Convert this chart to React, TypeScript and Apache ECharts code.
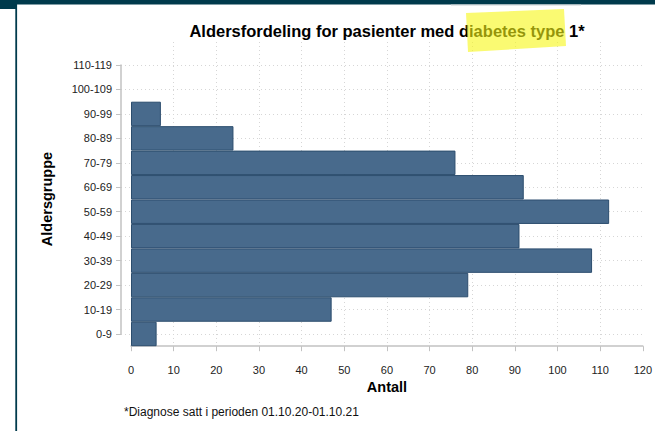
import React, { useEffect, useRef } from "react";
import * as echarts from "echarts";

// ---- data ----
const ageGroups = ["0-9", "10-19", "20-29", "30-39", "40-49", "50-59", "60-69", "70-79", "80-89", "90-99", "100-109", "110-119"];
const patientCounts = [6, 47, 79, 108, 91, 112, 92, 76, 24, 7, 0, 0];
const xMin = 0;
const xMax = 120;
const xInterval = 10;
const titleText = "Aldersfordeling for pasienter med diabetes type 1*";
const yAxisTitle = "Aldersgruppe";
const xAxisTitle = "Antall";
const footnoteText = "*Diagnose satt i perioden 01.10.20-01.10.21";

const FONT = '"Liberation Sans", Arial, sans-serif';
const AXIS_GRAY = "#c2c2c2";
const GRID_GRAY = "#d6d6d6";

export default function App() {
  const ref = useRef<HTMLDivElement>(null);

  useEffect(() => {
    if (!ref.current) return;
    const chart = echarts.init(ref.current, undefined, { renderer: "svg" });
    const plotRight = 11.7;
    const option: any = {
      animation: false,
      backgroundColor: "#ffffff",
      textStyle: { fontFamily: FONT },
      grid: [
        { left: 131, right: plotRight, top: 42, bottom: 84.8 },
        { left: 131, right: plotRight, top: 52.8, bottom: 84.8 },
        { left: 121, right: plotRight, top: 65, bottom: 97 },
      ],
      xAxis: [
        {
          gridIndex: 0,
          type: "value",
          min: xMin,
          max: xMax,
          interval: xInterval,
          offset: 8,
          axisLine: { show: true, lineStyle: { color: AXIS_GRAY, width: 1.5 } },
          axisTick: { show: true, length: 5, lineStyle: { color: AXIS_GRAY } },
          axisLabel: { fontSize: 11, color: "#222", margin: 10, fontFamily: FONT },
          splitLine: {
            show: true,
            showMinLine: false,
            showMaxLine: false,
            lineStyle: { color: GRID_GRAY, type: [1, 3], width: 1 },
          },
        },
        { gridIndex: 1, type: "value", min: xMin, max: xMax, show: false },
        { gridIndex: 2, type: "value", min: 0, max: 1, show: false },
      ],
      yAxis: [
        { gridIndex: 0, type: "value", min: 0, max: 1, show: false },
        { gridIndex: 1, type: "category", data: ageGroups, show: false },
        {
          gridIndex: 2,
          type: "value",
          min: 0,
          max: ageGroups.length - 1,
          interval: 1,
          axisLine: { show: true, lineStyle: { color: AXIS_GRAY, width: 1.5 } },
          axisTick: { show: true, length: 5, lineStyle: { color: AXIS_GRAY } },
          axisLabel: {
            fontSize: 11,
            color: "#222",
            margin: 9,
            fontFamily: FONT,
            showMinLabel: true,
            showMaxLabel: true,
            formatter: (v: number) => ageGroups[Math.round(v)] ?? "",
          },
          splitLine: {
            show: true,
            lineStyle: { color: GRID_GRAY, type: [1, 3], width: 1 },
          },
        },
      ],
      series: [
        {
          type: "bar",
          xAxisIndex: 1,
          yAxisIndex: 1,
          data: patientCounts.map((v) =>
            v === 0 ? { value: v, itemStyle: { borderWidth: 0, opacity: 0 } } : v
          ),
          barCategoryGap: "0%",
          itemStyle: { color: "#486a8c", borderColor: "#2c4d6e", borderWidth: 1 },
          z: 3,
        },
      ],
      graphic: [
        { type: "rect", shape: { x: 0, y: 0, width: 655, height: 4.5 }, style: { fill: "#003a4c" }, z: 50 },
        { type: "rect", shape: { x: 0, y: 0, width: 17, height: 9 }, style: { fill: "#003a4c" }, z: 50 },
        { type: "rect", shape: { x: 15.3, y: 0, width: 1.8, height: 431 }, style: { fill: "#003a4c" }, z: 50 },
        { type: "rect", shape: { x: 451, y: 4.5, width: 130, height: 1 }, style: { fill: "#c9d0d3" }, z: 50 },
        {
          type: "text",
          x: 387,
          y: 31,
          style: {
            text: titleText,
            fontSize: 16.5,
            fontWeight: "bold",
            fontFamily: FONT,
            fill: "#000",
            align: "center",
            verticalAlign: "middle",
          },
          z: 60,
        },
        {
          type: "polygon",
          shape: { points: [[466, 13], [564, 9], [566, 46], [468, 52]] },
          style: { fill: "rgba(246,246,20,0.6)" },
          z: 70,
        },
        {
          type: "text",
          x: 47,
          y: 199,
          rotation: Math.PI / 2,
          style: {
            text: yAxisTitle,
            fontSize: 14.5,
            fontWeight: "bold",
            fontFamily: FONT,
            fill: "#000",
            align: "center",
            verticalAlign: "middle",
          },
          z: 60,
        },
        {
          type: "text",
          x: 387,
          y: 387,
          style: {
            text: xAxisTitle,
            fontSize: 14.5,
            fontWeight: "bold",
            fontFamily: FONT,
            fill: "#000",
            align: "center",
            verticalAlign: "middle",
          },
          z: 60,
        },
        {
          type: "text",
          x: 124,
          y: 412,
          style: {
            text: footnoteText,
            fontSize: 12,
            fontFamily: FONT,
            fill: "#111",
            align: "left",
            verticalAlign: "middle",
          },
          z: 60,
        },
      ],
    };
    chart.setOption(option);
    return () => chart.dispose();
  }, []);

  return (
    <div
      ref={ref}
      style={{ position: "absolute", left: 0, top: 0, width: 655, height: 431 }}
    />
  );
}
